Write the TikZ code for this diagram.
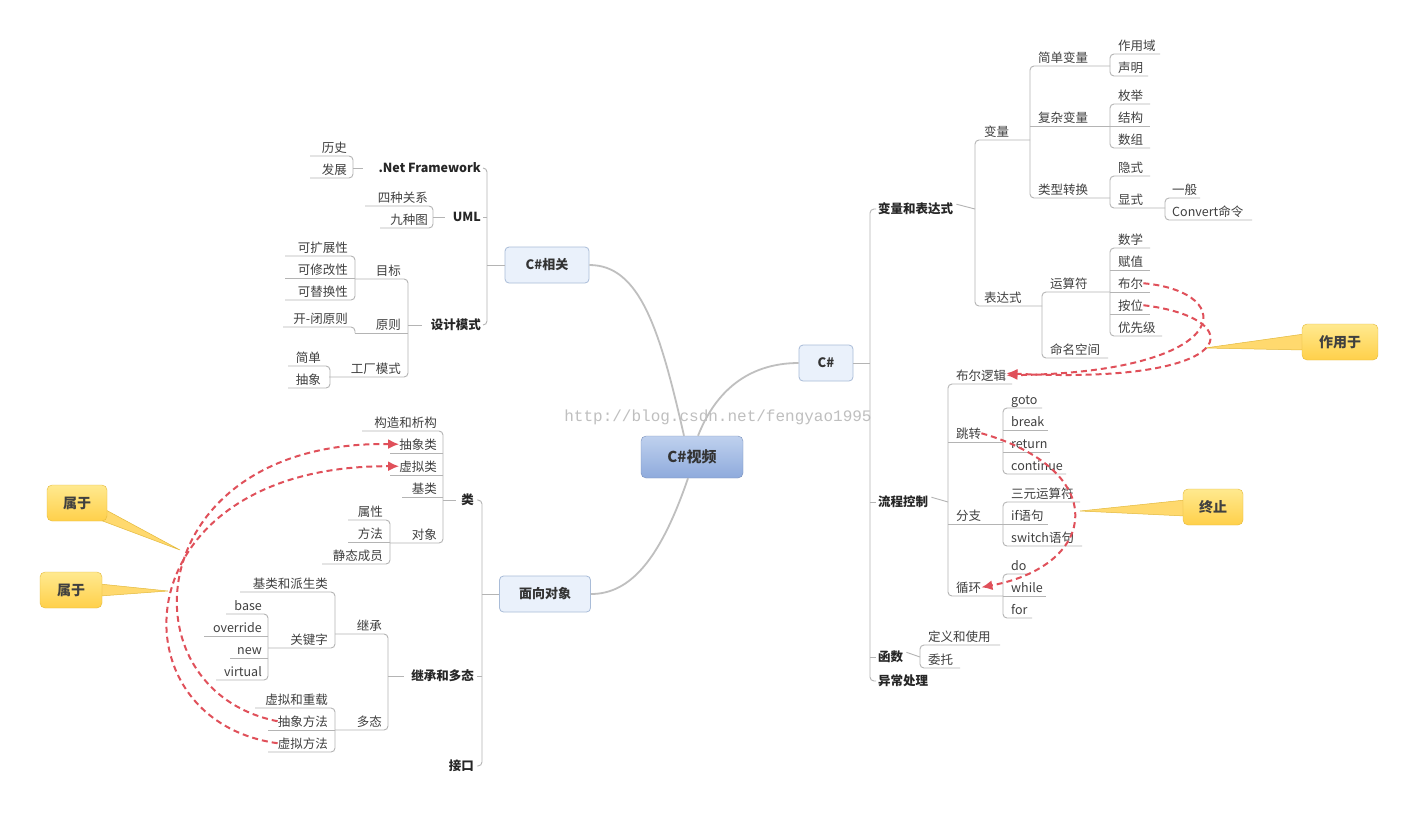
\documentclass[tikz,border=0pt]{standalone}
\usepackage{fontspec}
\setmainfont{Noto Sans CJK SC}
\newfontfamily\wmfont{Liberation Mono}
\usetikzlibrary{arrows.meta}
\definecolor{lnc}{HTML}{B4B4B4}
\definecolor{redc}{HTML}{E0505A}
\definecolor{boxf}{HTML}{EAF1FB}
\definecolor{boxd}{HTML}{A9BCD8}
\definecolor{rtop}{HTML}{BFD1EE}
\definecolor{rbot}{HTML}{8EAADC}
\definecolor{yelt}{HTML}{FFE98F}
\definecolor{yelb}{HTML}{FFD04A}
\definecolor{yeld}{HTML}{E3B93C}
\tikzset{
 x=1pt,y=-1pt,
 lab/.style={inner sep=0pt,font=\fontsize{12.5}{14}\selectfont,text=black!75},
 mainlab/.style={inner sep=0pt,font=\fontsize{12.5}{14}\selectfont\bfseries,text=black!85},
 ln/.style={draw=lnc,line width=0.9pt,rounded corners=4pt},
 sub/.style={draw=boxd,fill=boxf,rounded corners=4pt,line width=0.8pt,font=\fontsize{13}{15}\selectfont\bfseries,text=black!80,minimum height=36pt},
 callout/.style={draw=yeld,top color=yelt,bottom color=yelb,rounded corners=5pt,font=\fontsize{14}{16}\selectfont\bfseries,text=black!75,minimum height=36pt,minimum width=62pt},
 ptr/.style={fill=yelb!80,draw=yeld,line width=0.5pt},
 rel/.style={draw=redc,line width=2pt,dash pattern=on 6pt off 4pt,-{Latex[length=11pt,width=10pt]}},
 trunk/.style={draw=black!25,line width=1.8pt},
}
\newcommand\TR[4]{\node[lab,anchor=base west] (#1) at (#2,#3-4) {#4};}
\newcommand\TL[4]{\node[lab,anchor=base east] (#1) at (#2,#3-4) {#4};}
\begin{document}
\begin{tikzpicture}
\useasboundingbox (0,0) rectangle (1418,812);
\fill[white] (0,0) rectangle (1418,812);
\node[text=black!25,font=\wmfont\fontsize{16}{18}\selectfont] (wm) at (718,417) {http://blog.csdn.net/fengyao1995};

% central
\node[draw=rbot!85!black,top color=rtop,bottom color=rbot,rounded corners=5pt,minimum width=102pt,minimum height=42pt,font=\fontsize{15}{17}\selectfont\bfseries,text=black!80] (root) at (692,457) {C\#视频};
\node[sub,minimum width=54pt] (cs) at (826,363) {C\#};
\node[sub,minimum width=84pt] (rel) at (547,265) {C\#相关};
\node[sub,minimum width=91pt] (oo) at (545,594) {面向对象};
\draw[trunk] (root.north) ++(-8,0) .. controls (660,330) and (640,265) .. (rel.east);
\draw[trunk] (root.north) ++(6,0) .. controls (720,380) and (760,363) .. (cs.west);
\draw[trunk] (root.south) ++(-4,0) .. controls (660,560) and (630,594) .. (oo.east);

% ===== right side =====
\node[mainlab,anchor=base west] (vb) at (878,213) {变量和表达式};
\node[mainlab,anchor=base west] (lc) at (878,506) {流程控制};
\node[mainlab,anchor=base west] (hs) at (878,661) {函数};
\node[mainlab,anchor=base west] (yc) at (878,685) {异常处理};
\draw[ln] (cs.east) -- (870,363);
\draw[ln] (876,209)--(870,209)--(870,681)--(876,681);
\draw[ln] (870,502)--(876,502); \draw[ln] (870,657)--(876,657);

\draw[ln] (vb.east)++(3,-4) -- (975,209);
\TR{bl}{984}{140}{变量} \TR{bds}{984}{306}{表达式}
\draw[ln] (1030,140)--(975,140)--(975,306)--(1042,306);
\TR{jd}{1038}{66}{简单变量} \TR{fz}{1038}{126}{复杂变量} \TR{lx}{1038}{198}{类型转换}
\draw[ln] (1110,66)--(1030,66)--(1030,198)--(1110,198);
\draw[ln] (1030,126)--(1110,126);
\TR{zyy}{1118}{54}{作用域} \TR{sm}{1118}{76}{声明}
\draw[ln] (1160,54)--(1110,54)--(1110,76)--(1148,76);
\TR{mj}{1118}{104}{枚举} \TR{jg}{1118}{126}{结构} \TR{sz}{1118}{148}{数组}
\draw[ln] (1150,104)--(1110,104)--(1110,148)--(1150,148); \draw[ln] (1110,126)--(1150,126);
\TR{ys}{1118}{176}{隐式} \TR{xs}{1118}{208}{显式}
\draw[ln] (1150,176)--(1110,176)--(1110,208)--(1165,208);
\TR{yb}{1172}{198}{一般} \TR{cv}{1172}{220}{Convert命令}
\draw[ln] (1200,198)--(1165,198)--(1165,220)--(1252,220);
\TR{ysf}{1050}{292}{运算符} \TR{mm}{1050}{358}{命名空间}
\draw[ln] (1110,292)--(1042,292)--(1042,358)--(1108,358);
\TR{sx}{1118}{248}{数学} \TR{fzh}{1118}{270}{赋值} \TR{be}{1118}{292}{布尔} \TR{aw}{1118}{314}{按位} \TR{yxj}{1118}{336}{优先级}
\draw[ln] (1150,248)--(1110,248)--(1110,336)--(1162,336);
\draw[ln] (1110,270)--(1150,270); \draw[ln] (1110,292)--(1150,292); \draw[ln] (1110,314)--(1150,314);

\draw[ln] (lc.east)++(3,-4) -- (948,502);
\TR{bel}{956}{384}{布尔逻辑} \TR{tz}{956}{442}{跳转} \TR{fzz}{956}{524}{分支} \TR{xh}{956}{596}{循环}
\draw[ln] (1012,384)--(948,384)--(948,596)--(1003,596);
\draw[ln] (948,442)--(1003,442); \draw[ln] (948,524)--(1003,524);
\TR{gt}{1011}{408}{goto} \TR{bk}{1011}{430}{break} \TR{rt}{1011}{452}{return} \TR{ct}{1011}{474}{continue}
\draw[ln] (1042,408)--(1003,408)--(1003,474)--(1066,474);
\draw[ln] (1003,430)--(1048,430); \draw[ln] (1003,452)--(1050,452);
\TR{sy}{1011}{502}{三元运算符} \TR{ify}{1011}{524}{if语句} \TR{sw}{1011}{546}{switch语句}
\draw[ln] (1080,502)--(1003,502)--(1003,546)--(1082,546); \draw[ln] (1003,524)--(1048,524);
\TR{dd}{1011}{574}{do} \TR{wh}{1011}{596}{while} \TR{fr}{1011}{618}{for}
\draw[ln] (1030,574)--(1003,574)--(1003,618)--(1032,618); \draw[ln] (1003,596)--(1046,596);

\draw[ln] (hs.east)++(3,-4) -- (920,657);
\TR{dy}{928}{645}{定义和使用} \TR{wt}{928}{668}{委托}
\draw[ln] (1000,645)--(920,645)--(920,668)--(960,668);

% ===== left: C#相关 =====
\node[mainlab,anchor=base east] (net) at (481,172) {.Net Framework};
\node[mainlab,anchor=base east] (uml) at (481,221) {UML};
\node[mainlab,anchor=base east] (sj) at (481,329) {设计模式};
\draw[ln] (rel.west) -- (487,265);
\draw[ln] (483,168)--(487,168)--(487,325)--(483,325); \draw[ln] (487,217)--(483,217);
\TL{ls}{347}{156}{历史} \TL{fzn}{347}{178}{发展}
\draw[ln] (310,156)--(353,156)--(353,178)--(310,178); \draw[ln] (353,168)--(363,168);
\TL{sz4}{428}{206}{四种关系} \TL{jz}{428}{228}{九种图}
\draw[ln] (365,206)--(433,206)--(433,228)--(380,228); \draw[ln] (433,217)--(445,217);
\TL{mb}{401}{279}{目标} \TL{yz}{401}{333}{原则} \TL{gc}{401}{377}{工厂模式}
\draw[ln] (355,279)--(408,279)--(408,377)--(329,377); \draw[ln] (408,333)--(355,333); \draw[ln] (408,325)--(422,325);
\TL{kk}{348}{256}{可扩展性} \TL{kx}{348}{278}{可修改性} \TL{kt}{348}{300}{可替换性}
\draw[ln] (285,256)--(355,256)--(355,300)--(285,300); \draw[ln] (355,278)--(285,278);
\TL{kb}{348}{327}{开-闭原则}
\draw[ln] (283,327)--(355,327)--(355,333);
\TL{jdn}{321}{366}{简单} \TL{cx}{321}{388}{抽象}
\draw[ln] (288,366)--(330,366)--(330,388)--(288,388);

% ===== left: 面向对象 =====
\node[mainlab,anchor=base east] (lei) at (474,504) {类};
\node[mainlab,anchor=base east] (jc) at (474,680) {继承和多态};
\node[mainlab,anchor=base east] (jk) at (474,770) {接口};
\draw[ln] (oo.west) -- (482,594);
\draw[ln] (477,500)--(482,500)--(482,766)--(477,766); \draw[ln] (482,676)--(477,676);
\TL{gz}{437}{431}{构造和析构} \TL{cxl}{437}{453}{抽象类} \TL{xnl}{437}{475}{虚拟类} \TL{jl}{437}{497}{基类} \TL{dx}{437}{543}{对象}
\draw[ln] (362,431)--(443,431)--(443,543)--(390,543);
\draw[ln] (443,453)--(390,453); \draw[ln] (443,475)--(390,475); \draw[ln] (443,497)--(402,497); \draw[ln] (443,500)--(456,500);
\TL{sxn}{383}{520}{属性} \TL{ff}{383}{542}{方法} \TL{jt}{383}{564}{静态成员}
\draw[ln] (348,520)--(390,520)--(390,564)--(322,564); \draw[ln] (390,542)--(348,542);
\TL{jch}{382}{634}{继承} \TL{dt}{382}{730}{多态}
\draw[ln] (335,634)--(388,634)--(388,730)--(335,730); \draw[ln] (388,676)--(404,676);
\TL{jp}{328}{592}{基类和派生类} \TL{gjz}{328}{648}{关键字}
\draw[ln] (240,592)--(335,592)--(335,648)--(268,648);
\TL{bs}{262}{614}{base} \TL{ov}{262}{636}{override} \TL{nw}{262}{658}{new} \TL{vt}{262}{680}{virtual}
\draw[ln] (226,614)--(268,614)--(268,680)--(216,680); \draw[ln] (268,636)--(204,636); \draw[ln] (268,658)--(230,658);
\TL{xncz}{328}{708}{虚拟和重载} \TL{cxff}{328}{730}{抽象方法} \TL{xnff}{328}{752}{虚拟方法}
\draw[ln] (255,708)--(335,708)--(335,752)--(268,752); \draw[ln] (335,730)--(268,730);

% ===== callouts =====
\fill[ptr] (1304,334)--(1205,348)--(1304,350)--cycle;
\node[callout,minimum width=76pt] (zyu) at (1340,342) {作用于};
\fill[ptr] (1185,500)--(1080,511)--(1185,516)--cycle;
\node[callout,minimum width=60pt] (zz) at (1213,507) {终止};
\fill[ptr] (106,510)--(180,550)--(100,520)--cycle;
\node[callout,minimum width=60pt] (sy1) at (77,503) {属于};
\fill[ptr] (100,584)--(168,591)--(100,596)--cycle;
\node[callout,minimum width=62pt] (sy2) at (71,590) {属于};

% ===== relations =====
\draw[rel] (be.east) .. controls (1240,292) and (1235,372) .. (bel.east);
\draw[rel] (aw.east) .. controls (1250,318) and (1245,385) .. ([yshift=2pt]bel.east);
\draw[rel] (tz.east) .. controls (1110,470) and (1100,565) .. (xh.east);
\draw[rel] (cxff.west) .. controls (120,690) and (140,440) .. (cxl.west);
\draw[rel] (xnff.west) .. controls (110,720) and (120,465) .. (xnl.west);
\end{tikzpicture}
\end{document}
